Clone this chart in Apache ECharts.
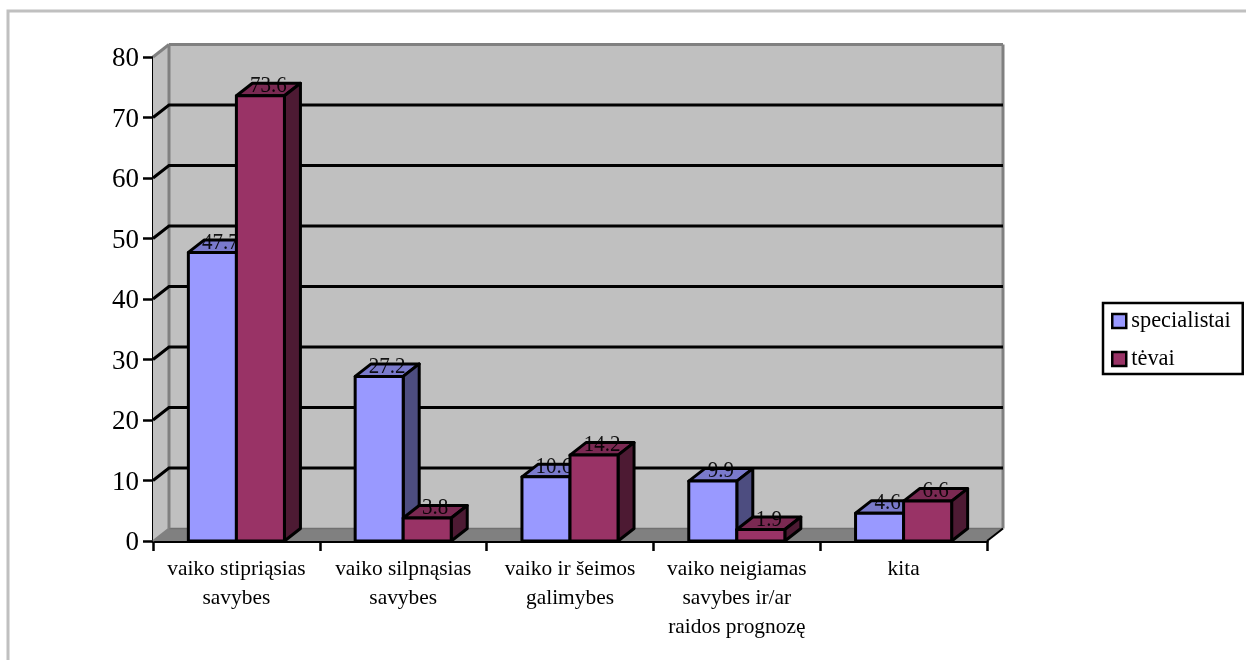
<!DOCTYPE html>
<html><head><meta charset="utf-8">
<style>html,body{margin:0;padding:0;background:#fff}#c{width:1246px;height:660px}</style>
<script src="https://cdn.jsdelivr.net/npm/echarts@6/dist/echarts.min.js"></script>
</head><body><div id="c"></div>
<script>
const categories = ['vaiko stipriąsias\nsavybes','vaiko silpnąsias\nsavybes','vaiko ir šeimos\ngalimybes','vaiko neigiamas\nsavybes ir/ar\nraidos prognozę','kita'];
const specialistai = [47.7, 27.2, 10.6, 9.9, 4.6];
const tevai = [73.6, 3.8, 14.2, 1.9, 6.6];
const gridTicks = [10, 20, 30, 40, 50, 60, 70];
const DX = 16, DY = -12.5, LW = 3, FONT = '"Liberation Serif","Times New Roman",serif';

function wallItem(params, api) {
  const g = params.coordSys, x0 = g.x, x1 = g.x + g.width, yT = g.y, yB = g.y + g.height;
  const wall = '#c0c0c0', edge = '#808080';
  const poly = (pts, fill) => ({type:'polygon', shape:{points:pts}, style:{fill, stroke:null}});
  const line = (a, b, c, w) => ({type:'line', shape:{x1:a[0],y1:a[1],x2:b[0],y2:b[1]}, style:{stroke:c, lineWidth:w}});
  return {type:'group', children:[
    poly([[x0,yT],[x0+DX,yT+DY],[x0+DX,yB+DY],[x0,yB]], wall),
    poly([[x0+DX,yT+DY],[x1+DX,yT+DY],[x1+DX,yB+DY],[x0+DX,yB+DY]], wall),
    poly([[x0,yB],[x0+DX,yB+DY],[x1+DX,yB+DY],[x1,yB]], edge),
    line([x0+DX,yB+DY],[x1+DX,yB+DY],'#707070',1.5),
    line([x0+DX,yT+DY],[x0+DX,yB+DY],edge,LW),
    line([x1+DX,yT+DY],[x1+DX,yB+DY],edge,LW),
    line([x0+DX,yT+DY],[x1+DX,yT+DY],edge,LW),
    line([x0,yT],[x0+DX,yT+DY],edge,LW),
    line([x0,yB],[x0+DX,yB+DY],edge,LW-1),
    line([x1,yB],[x1+DX,yB+DY],'#000',LW-1)
  ]};
}
function gridItem(params, api) {
  const g = params.coordSys, p = api.coord([0, api.value(0)]), x0 = g.x, x1 = g.x + g.width;
  return {type:'polyline', shape:{points:[[x0,p[1]],[x0+DX,p[1]+DY],[x1+DX,p[1]+DY]]}, style:{fill:null, stroke:'#000', lineWidth:LW}};
}
function barItem(side, top, dark) {
  return function(params, api) {
    const c = api.value(0), v = api.value(1), a = api.coord([c, v]), b = api.coord([c, 0]);
    const w = api.size([1,0])[0] * 0.288, L = side === 0 ? a[0]-w : a[0], R = L + w, T = a[1], B = b[1];
    const st = fill => ({fill, stroke:'#000', lineWidth:LW, lineJoin:'round'});
    const tx = (L+R+DX)/2, ty = T+DY+2.5;
    return {type:'group', children:[
      {type:'polygon', shape:{points:[[L,T],[R,T],[R+DX,T+DY],[L+DX,T+DY]]}, style:st(dark.t)},
      {type:'polygon', shape:{points:[[R,T],[R+DX,T+DY],[R+DX,B+DY],[R,B]]}, style:st(dark.s)},
      {type:'rect', shape:{x:L,y:T,width:w,height:B-T}, style:st(top)},
      {type:'text', x:tx, y:ty, scaleY:1.12, style:{x:0, y:0, text:v.toFixed(1), fill:'#000', font:'21px '+FONT, align:'center', verticalAlign:'middle', opacity:.9}}
    ]};
  };
}
const toData = arr => arr.map((v,i)=>[i,v]);
const chart = echarts.init(document.getElementById('c'), null, {renderer:'canvas'});
chart.setOption({
  animation:false,
  backgroundColor:'#fff',
  textStyle:{fontFamily:FONT},
  graphic:[{type:'polyline', shape:{points:[[8,662],[8,11],[1248,11]]}, style:{fill:null, stroke:'#c0c0c0', lineWidth:3}, silent:true}],
  grid:{left:153, top:57, width:834, height:484},
  legend:{
    left:1103, top:303, orient:'vertical', data:['specialistai','tėvai'],
    backgroundColor:'#fff', borderColor:'#000', borderWidth:2.5, padding:[7,12,4,8],
    itemWidth:14, itemHeight:14, itemGap:16, icon:'rect', selectedMode:false,
    itemStyle:{borderColor:'#000', borderWidth:2.5},
    textStyle:{fontFamily:FONT, fontSize:22.4, color:'#000'}
  },
  xAxis:{type:'category', data:categories, boundaryGap:true,
    axisLine:{lineStyle:{color:'#000', width:LW}},
    axisTick:{show:true, length:10, lineStyle:{color:'#000', width:LW-0.5}},
    axisLabel:{interval:0, color:'#000', fontFamily:FONT, fontSize:21.4, lineHeight:29, margin:14}},
  yAxis:{type:'value', min:0, max:80, interval:10,
    axisLine:{show:true, lineStyle:{color:'#000', width:LW}},
    axisTick:{show:true, length:10, lineStyle:{color:'#000', width:LW-0.5}},
    splitLine:{show:false},
    axisLabel:{color:'#000', fontFamily:FONT, fontSize:27, margin:14, formatter:'{a|{value}}',
      rich:{a:{fontFamily:FONT, fontSize:27, color:'#000', padding:[4,0,0,0]}}}},
  series:[
    {type:'custom', name:'wall', silent:true, z:1, data:[[0]], renderItem:wallItem, encode:{x:0}},
    {type:'custom', name:'grid', silent:true, z:1, data:gridTicks.map(v=>[v]), renderItem:gridItem, encode:{y:0}},
    {type:'custom', name:'specialistai', z:2, data:toData(specialistai), itemStyle:{color:'#9999ff'}, encode:{x:0,y:1},
      renderItem:barItem(0,'#9999ff',{t:'#7a7acc',s:'#4d4d80'})},
    {type:'custom', name:'tėvai', z:2, data:toData(tevai), itemStyle:{color:'#993366'}, encode:{x:0,y:1},
      renderItem:barItem(1,'#993366',{t:'#7a2952',s:'#4d1a33'})}
  ]
});
</script></body></html>
